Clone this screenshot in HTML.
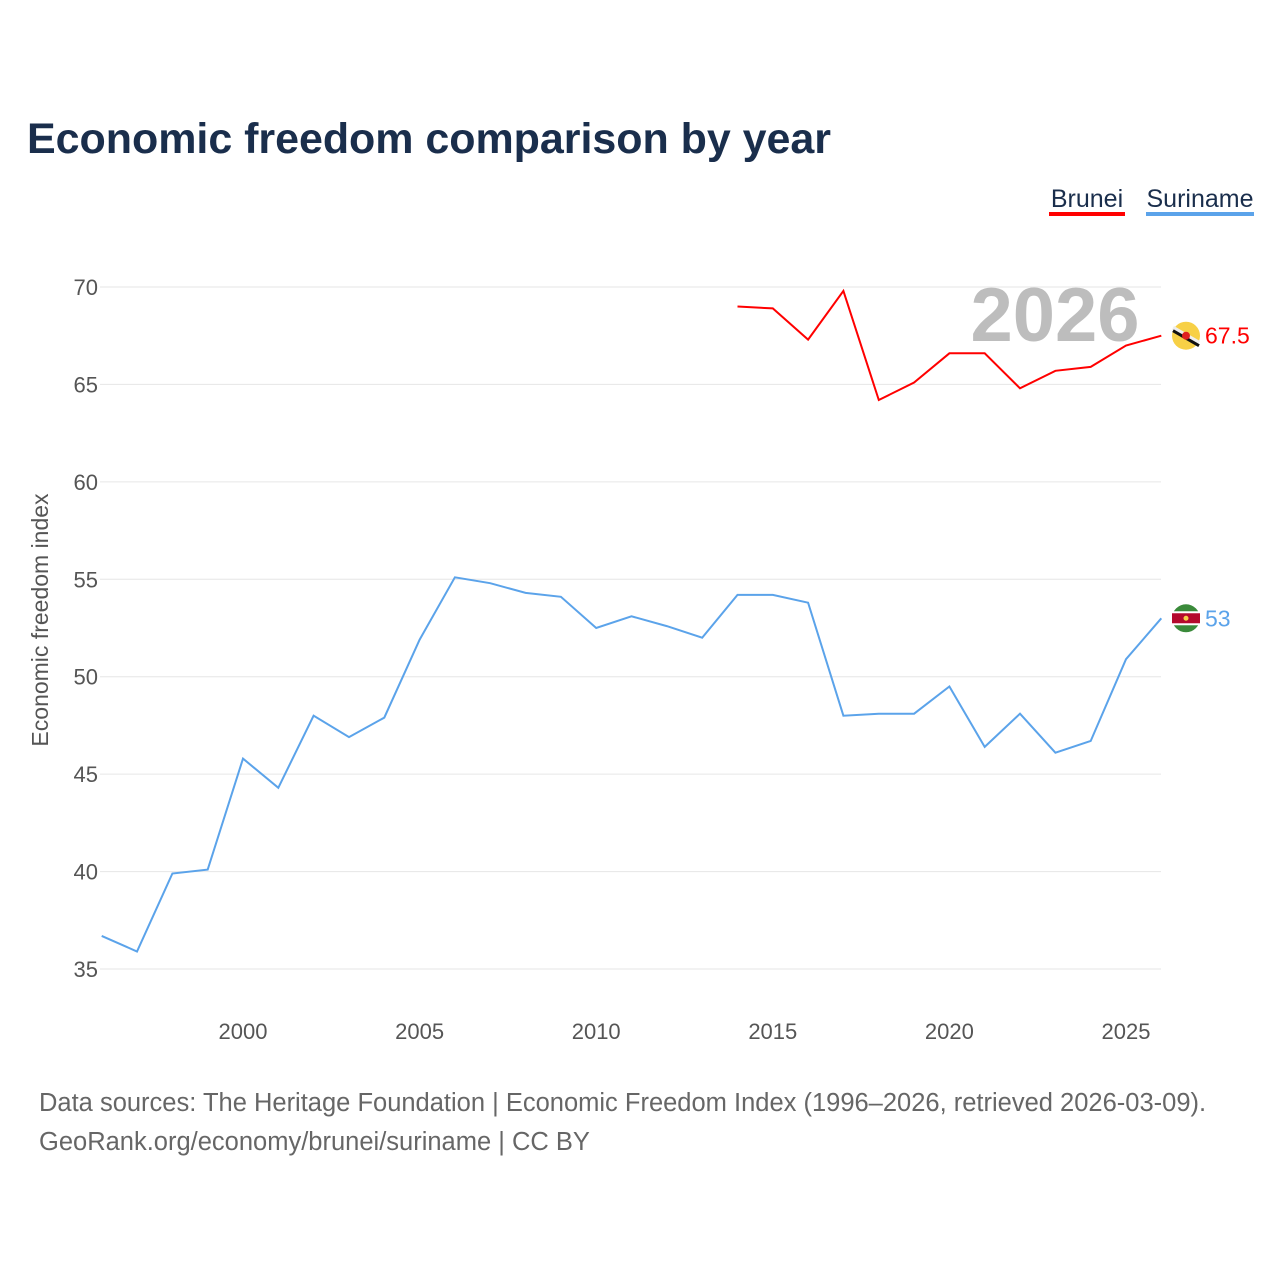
<!DOCTYPE html>
<html><head><meta charset="utf-8"><style>
body{margin:0;background:#fff;font-family:"Liberation Sans",sans-serif;}
svg{display:block}
</style></head><body>
<svg id="chart" width="1280" height="1280">
<rect width="1280" height="1280" fill="#fff"/>
<text x="27" y="153" font-size="43" font-weight="bold" fill="#1a2e4c" textLength="804">Economic freedom comparison by year</text>
<g>
<text x="1087" y="207" font-size="25" fill="#1a2e4c" text-anchor="middle">Brunei</text>
<rect x="1049" y="212" width="76" height="4" fill="#ff0000"/>
<text x="1200" y="207" font-size="25" fill="#1a2e4c" text-anchor="middle">Suriname</text>
<rect x="1146" y="212" width="108" height="4" fill="#5ba3ea"/>
</g>
<text x="1055" y="341" font-size="76" font-weight="bold" fill="#bdbdbd" text-anchor="middle">2026</text>
<g id="grid"></g><g id="axes"></g><g id="lines"></g>
<text transform="translate(48,620) rotate(-90)" font-size="23" fill="#555" text-anchor="middle">Economic freedom index</text>
<text x="39" y="1111" font-size="25.5" fill="#666">Data sources: The Heritage Foundation | Economic Freedom Index (1996–2026, retrieved 2026-03-09).</text>
<text x="39" y="1150" font-size="25.5" fill="#666">GeoRank.org/economy/brunei/suriname | CC BY</text>
</svg>
<script>
const years=[1996,1997,1998,1999,2000,2001,2002,2003,2004,2005,2006,2007,2008,2009,2010,2011,2012,2013,2014,2015,2016,2017,2018,2019,2020,2021,2022,2023,2024,2025,2026];
const suriname=[36.7,35.9,39.9,40.1,45.8,44.3,48.0,46.9,47.9,51.9,55.1,54.8,54.3,54.1,52.5,53.1,52.6,52.0,54.2,54.2,53.8,48.0,48.1,48.1,49.5,46.4,48.1,46.1,46.7,50.9,53.0];
const brunei=[null,null,null,null,null,null,null,null,null,null,null,null,null,null,null,null,null,null,69.0,68.9,67.3,69.8,64.2,65.1,66.6,66.6,64.8,65.7,65.9,67.0,67.5];
const yTicks=[35,40,45,50,55,60,65,70];
const xTicks=[2000,2005,2010,2015,2020,2025];
const NS="http://www.w3.org/2000/svg";
const x=v=>243+(v-2000)*35.32;
const y=v=>287+(70-v)*19.486;
function mk(t,a,p){const e=document.createElementNS(NS,t);for(const k in a)e.setAttribute(k,a[k]);p.appendChild(e);return e;}
const grid=document.getElementById('grid'),axes=document.getElementById('axes'),lines=document.getElementById('lines');
yTicks.forEach(t=>{
 const l=mk('line',{x1:100,x2:1161,y1:y(t),y2:y(t),stroke:'#e6e6e6','stroke-width':1},grid);
 
 
 const tx=mk('text',{x:98,y:y(t)+8,'font-size':22,fill:'#555','text-anchor':'end'},axes);
 tx.textContent=t;
 
 
});
xTicks.forEach(t=>{
 const tx=mk('text',{x:x(t),y:1039,'font-size':22,fill:'#555','text-anchor':'middle'},axes);
 tx.textContent=t;
 
 
});
function series(vals,color,name){
 let d='';vals.forEach((v,i)=>{if(v==null)return;d+=(d?'L':'M')+x(years[i]).toFixed(1)+','+y(v).toFixed(1);});
 const p=mk('path',{d:d,fill:'none',stroke:color,'stroke-width':2},lines);
 
 
 const last=vals[vals.length-1];
 const cy=y(last);
 const c=mk('circle',{cx:1186,cy:cy,r:14,fill:name=='brunei'?'#f7d046':'#3a8a3a'},lines);
 
 
 if(name=='suriname'){mk('rect',{x:1172,y:cy-7,width:28,height:14,fill:'#fff'},lines);mk('rect',{x:1172,y:cy-5,width:28,height:10,fill:'#b40a2d'},lines);mk('circle',{cx:1186,cy:cy,r:2.5,fill:'#f7d046'},lines);}
 else{mk('line',{x1:1173,y1:cy-8,x2:1199,y2:cy+7,stroke:'#eee','stroke-width':4},lines);mk('line',{x1:1173,y1:cy-5,x2:1199,y2:cy+10,stroke:'#111','stroke-width':3},lines);mk('circle',{cx:1186,cy:cy,r:4,fill:'#e02020'},lines);}
 const lb=mk('text',{x:1205,y:cy+8,'font-size':23,fill:color},lines);
 lb.textContent=last;
 
 
}
series(suriname,'#5ba3ea','suriname');
series(brunei,'#ff0000','brunei');
</script>
</body></html>
